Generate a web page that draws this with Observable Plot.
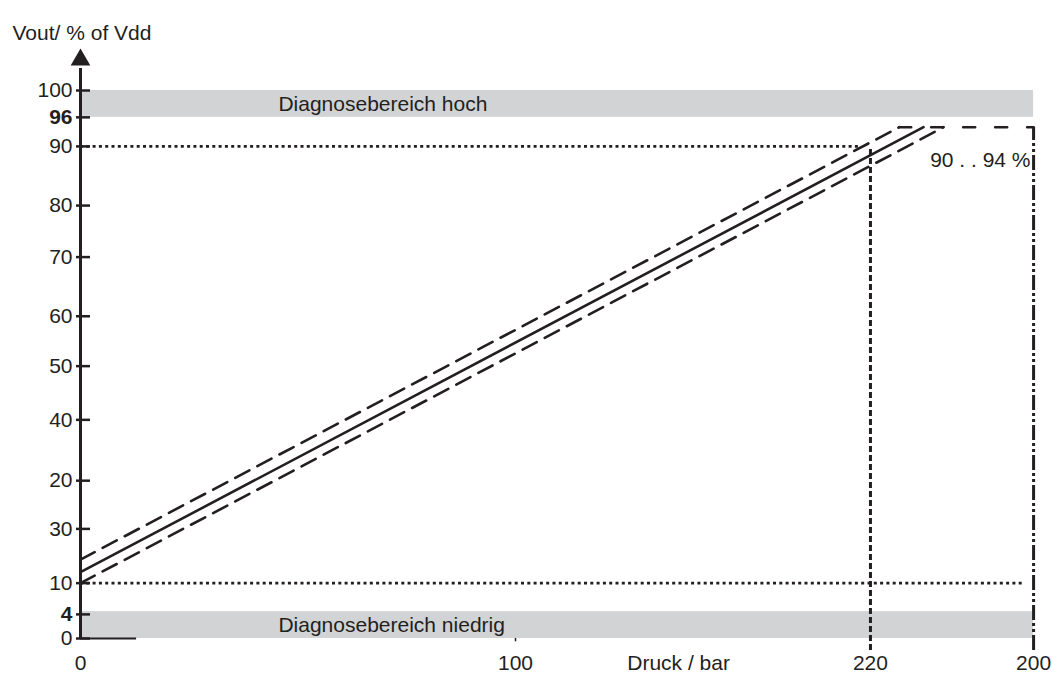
<!DOCTYPE html>
<html><head><meta charset="utf-8">
<script src="https://cdn.jsdelivr.net/npm/d3@7"></script>
<script src="https://cdn.jsdelivr.net/npm/@observablehq/plot@0.6"></script>
<style>body{margin:0;background:#fff;overflow:hidden}</style>
</head><body><div id="chart"></div>
<script>
// y tick positions (as drawn) and their printed labels
const yTickPos    = [0, 4.4, 10.1, 20, 28.8, 39.9, 49.7, 58.8, 69.6, 79, 89.8, 95.1, 100];
const yTickLabels = ["0","4","10","30","20","40","50","60","70","80","90","96","100"];
const yTickBold   = [false,true,false,false,false,false,false,false,false,false,false,true,false];
// x tick positions (as drawn) and their printed labels
const xTickPos    = [0, 100, 137.5, 181.6, 219.1];
const xTickLabels = ["0","100","Druck / bar","220","200"];
// characteristic lines
const solidX = [0, 193.8];
const solidY = [12.1, 93.3];
const upperX = [0, 188.2];
const upperY = [14.4, 93.3];
const flatX  = [188.2, 219.1];
const flatY  = [93.3, 93.3];
const lowerX = [0, 198.4];
const lowerY = [10.1, 93.3];
// diagnostic bands
const bandNames = ["Diagnosebereich hoch", "Diagnosebereich niedrig"];
const bandLow   = [95.1, 0];
const bandHigh  = [100, 4.9];
const xEnd = 219.1;

const ink = "#231f20";
const pts = (xs, ys) => xs.map((x, i) => ({x, y: ys[i]}));
const yTicks = yTickPos.map((p, i) => ({pos: p, label: yTickLabels[i], bold: yTickBold[i]}));
const xTicks = xTickPos.map((p, i) => ({pos: p, label: xTickLabels[i]}));
const bands = bandNames.map((n, i) => ({name: n, y1: bandLow[i], y2: bandHigh[i]}));

const chart = Plot.plot({
  width: 1052, height: 675,
  marginLeft: 80, marginRight: 15, marginTop: 90, marginBottom: 37,
  x: {domain: [0, 220], axis: null},
  y: {domain: [0, 100], axis: null},
  style: {fontFamily: "'Liberation Sans', Arial, sans-serif", fontSize: "21px", background: "white", overflow: "visible", color: ink},
  marks: [
    Plot.rect(bands, {x1: 0, x2: xEnd, y1: "y1", y2: "y2", fill: "#d1d3d4"}),
    Plot.text(bands, {x: 45.5, y: d => (d.y1 + d.y2) / 2, text: "name", textAnchor: "start", fill: ink}),
    // dotted reference lines
    Plot.ruleY([89.8], {x1: 0, x2: 179.5, stroke: ink, strokeWidth: 2.6, strokeDasharray: "3,3.3"}),
    Plot.ruleY([10.1], {x1: 0, x2: 216.8, stroke: ink, strokeWidth: 2.6, strokeDasharray: "3,3.3"}),
    Plot.ruleX([181.6], {y1: -2.2, y2: 89.8, stroke: ink, strokeWidth: 3, strokeDasharray: "6,3"}),
    Plot.ruleX([219.1], {y1: -2.2, y2: 93.3, stroke: ink, strokeWidth: 3, strokeDasharray: "15,3,3,3,3,3"}),
    // characteristic
    Plot.line(pts(upperX, upperY), {x: "x", y: "y", stroke: ink, strokeWidth: 2.6, strokeDasharray: "16,9"}),
    Plot.line(pts(flatX, flatY), {x: "x", y: "y", stroke: ink, strokeWidth: 2.6, strokeDasharray: "12,20"}),
    Plot.line(pts(lowerX, lowerY), {x: "x", y: "y", stroke: ink, strokeWidth: 2.6, strokeDasharray: "16,9"}),
    Plot.line(pts(solidX, solidY), {x: "x", y: "y", stroke: ink, strokeWidth: 2.6}),
    Plot.text(["90 . . 94 %"], {x: 218.4, y: 87.2, textAnchor: "end", fill: ink}),
    // short base segment and small tick at 100
    Plot.ruleY([0], {x1: 0, x2: 12.9, stroke: ink, strokeWidth: 2}),
    Plot.ruleX([100], {y1: -0.6, y2: 0, stroke: ink, strokeWidth: 1.5}),
    // y axis with arrow
    Plot.ruleX([0], {y1: 0, y2: 104, stroke: ink, strokeWidth: 3}),
    Plot.dot([{x: 0, y: 105.6}], {x: "x", y: "y", symbol: "triangle", r: 7.3, fill: ink, stroke: null}),
    Plot.ruleY(yTicks, {y: "pos", x1: -0.92, x2: 2.3, stroke: ink, strokeWidth: 2.5}),
    Plot.text(yTicks.filter(d => !d.bold), {x: 0, y: "pos", text: "label", dx: -8, textAnchor: "end", fill: ink}),
    Plot.text(yTicks.filter(d => d.bold), {x: 0, y: "pos", text: "label", dx: -8, textAnchor: "end", fontWeight: "bold", fill: ink}),
    Plot.text(xTicks, {x: "pos", y: -4.5, text: "label", fill: ink}),
    Plot.text(["Vout/ % of Vdd"], {frameAnchor: "top-left", dx: -68, dy: -65, textAnchor: "start", fill: ink})
  ]
});
document.getElementById("chart").append(chart);
</script>
</body></html>
